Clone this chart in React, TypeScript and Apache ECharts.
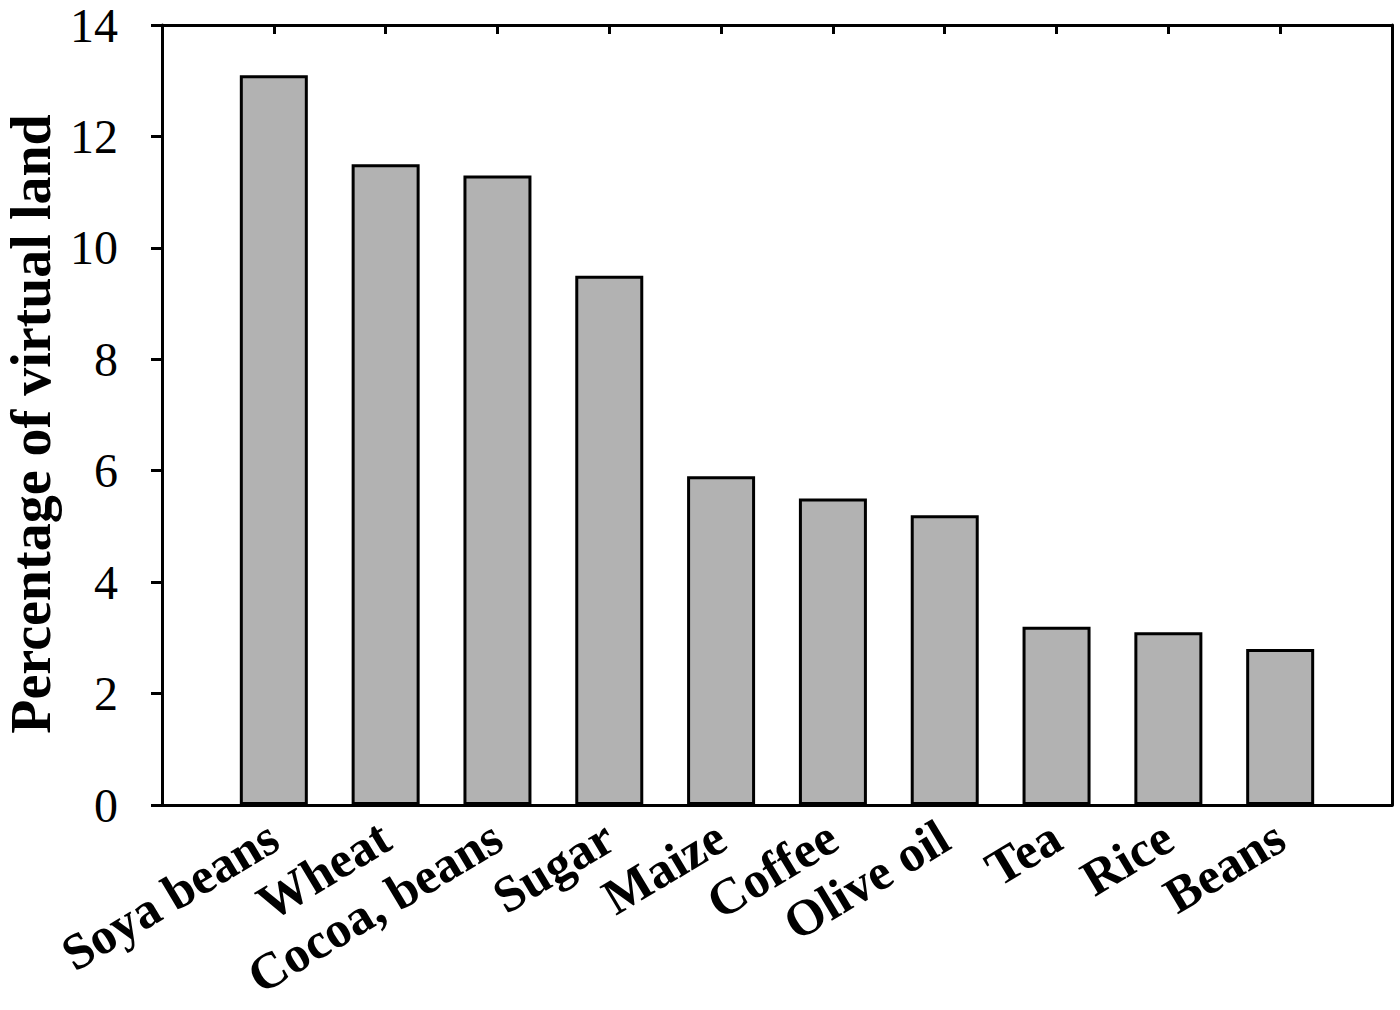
import React, { useEffect, useRef } from "react";
import * as echarts from "echarts";

const categories = ["Soya beans", "Wheat", "Cocoa, beans", "Sugar", "Maize", "Coffee", "Olive oil", "Tea", "Rice", "Beans"];
const values = [13.1, 11.5, 11.3, 9.5, 5.9, 5.5, 5.2, 3.2, 3.1, 2.8];
const yTicks = [0, 2, 4, 6, 8, 10, 12, 14];
const yName = "Percentage of virtual land";

export default function App() {
  const ref = useRef<HTMLDivElement>(null);
  useEffect(() => {
    const chart = echarts.init(ref.current!, null, { renderer: "svg" });
    const axisData = ["", ...categories, ""];
    const seriesData: any[] = ["-", ...values, "-"];
    const lineStyle = { color: "#000", width: 3 };
    chart.setOption({
      animation: false,
      backgroundColor: "#fff",
      grid: { left: 162, right: 8, top: 25, bottom: 205, containLabel: false, outerBoundsMode: "none" },
      xAxis: [
        {
          type: "category",
          data: axisData,
          boundaryGap: false,
          axisLine: { lineStyle },
          axisTick: { show: false },
          axisLabel: {
            interval: 0,
            rotate: 31,
            margin: 28,
            fontFamily: "Liberation Serif",
            fontWeight: "bold",
            fontSize: 51,
            color: "#000",
          },
        },
        {
          type: "category",
          data: axisData,
          boundaryGap: false,
          position: "top",
          axisLine: { onZero: false, lineStyle },
          axisTick: { show: true, inside: true, length: 9, interval: 0, lineStyle },
          axisLabel: { show: false },
        },
      ],
      yAxis: [
        {
          type: "value",
          min: yTicks[0],
          max: yTicks[yTicks.length - 1],
          interval: 2,
          name: yName,
          nameLocation: "middle",
          nameGap: 100,
          nameTextStyle: {
            fontFamily: "Liberation Serif",
            fontWeight: "bold",
            fontSize: 56,
            lineHeight: 56,
            color: "#000",
            padding: [0, 18, 0, 0],
          },
          axisLine: { show: true, lineStyle },
          axisTick: { show: true, length: 11, lineStyle },
          splitLine: { show: false },
          axisLabel: {
            margin: 44,
            fontFamily: "Liberation Serif",
            fontSize: 48,
            color: "#000",
          },
        },
        {
          type: "value",
          min: 0,
          max: 14,
          position: "right",
          axisLine: { show: true, onZero: false, lineStyle },
          axisTick: { show: false },
          axisLabel: { show: false },
          splitLine: { show: false },
        },
      ],
      series: [
        {
          type: "bar",
          data: seriesData,
          barWidth: 68,
          itemStyle: { color: "#b2b2b2", borderColor: "#000", borderWidth: 3 },
        },
      ],
    });
    return () => chart.dispose();
  }, []);
  return (
    <div
      ref={ref}
      style={{ position: "fixed", left: 0, top: 0, width: 1400, height: 1010, background: "#fff" }}
    />
  );
}
